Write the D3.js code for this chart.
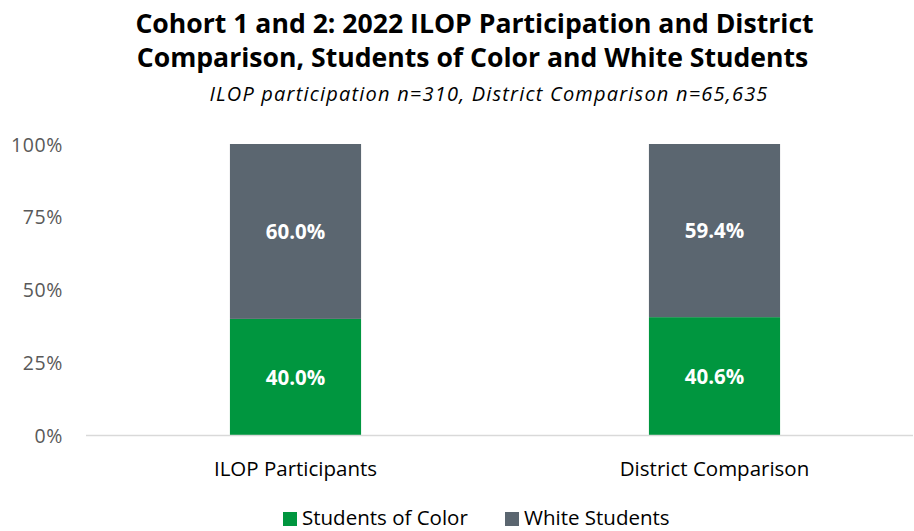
<!DOCTYPE html>
<html>
<head>
<meta charset="utf-8">
<script src="https://cdn.jsdelivr.net/npm/d3@7"></script>
<style>
  html, body { margin: 0; padding: 0; background: #fff; }
  svg { display: block; font-family: "Open Sans", Lato, sans-serif; }
</style>
</head>
<body>
<svg id="chart" width="914" height="531"></svg>
<script>
const categories = ["ILOP Participants", "District Comparison"];
const seriesNames = ["Students of Color", "White Students"];
const studentsOfColor = [40.0, 40.6];
const whiteStudents = [60.0, 59.4];
const yTicks = [0, 25, 50, 75, 100];
const colors = ["#00963F", "#5B6670"];

const svg = d3.select("#chart");
const FONT = '"Open Sans", Lato, sans-serif';

const x = d3.scaleBand().domain(categories).range([86, 924]).paddingInner(0.687).paddingOuter(0.3435);
const y = d3.scaleLinear().domain([0, 100]).range([435.5, 144]);

// Title
svg.append("text").attr("x", 474.5).attr("y", 33).attr("text-anchor", "middle")
  .attr("font-weight", "bold").attr("font-size", 26.6).attr("fill", "#000")
  .text("Cohort 1 and 2: 2022 ILOP Participation and District");
svg.append("text").attr("x", 472.5).attr("y", 67).attr("text-anchor", "middle")
  .attr("font-weight", "bold").attr("font-size", 26.6).attr("fill", "#000")
  .text("Comparison, Students of Color and White Students");
svg.append("text").attr("x", 489).attr("y", 101).attr("text-anchor", "middle")
  .attr("font-style", "italic").attr("font-size", 20).attr("letter-spacing", 1.2).attr("fill", "#000")
  .text("ILOP participation n=310, District Comparison n=65,635");

// Stack
const rows = categories.map((c, i) => ({cat: c, soc: studentsOfColor[i], white: whiteStudents[i]}));
const stack = d3.stack().keys(["soc", "white"])(rows);

const g = svg.append("g");
stack.forEach((layer, li) => {
  g.selectAll(null).data(layer).join("rect")
    .attr("x", d => x(d.data.cat))
    .attr("width", x.bandwidth())
    .attr("y", d => y(d[1]))
    .attr("height", d => y(d[0]) - y(d[1]))
    .attr("fill", colors[li]);
  g.selectAll(null).data(layer).join("text")
    .attr("x", d => x(d.data.cat) + x.bandwidth() / 2)
    .attr("y", d => (y(d[0]) + y(d[1])) / 2 + 7.5)
    .attr("text-anchor", "middle")
    .attr("font-weight", "bold").attr("font-size", 20.5).attr("fill", "#fff")
    .text(d => (d[1] - d[0]).toFixed(1) + "%");
});

// Y axis (no line)
const yAxis = d3.axisLeft(y).tickValues(yTicks).tickSize(0).tickPadding(0).tickFormat(d => d + "%");
const ya = svg.append("g").attr("transform", "translate(63,0)").call(yAxis);
ya.select(".domain").remove();
ya.selectAll("text").attr("font-size", 19.5).attr("fill", "#595959").attr("font-family", FONT)
  .attr("dy", "0.36em").attr("letter-spacing", 0.6);

// X axis baseline
svg.append("line").attr("x1", 86).attr("x2", 913).attr("y1", y(0)).attr("y2", y(0))
  .attr("stroke", "#D9D9D9").attr("stroke-width", 1.5);

const xAxis = d3.axisBottom(x).tickSize(0).tickPadding(0);
const xa = svg.append("g").attr("transform", `translate(0,${y(0)})`).call(xAxis);
xa.select(".domain").remove();
xa.selectAll("text").attr("font-size", 20.5).attr("fill", "#000").attr("font-family", FONT)
  .attr("dy", 0).attr("y", 40);

// Legend
const legendItems = [{name: seriesNames[0], color: colors[0], x: 283}, {name: seriesNames[1], color: colors[1], x: 505}];
const lg = svg.append("g");
legendItems.forEach(it => {
  lg.append("rect").attr("x", it.x).attr("y", 512).attr("width", 14).attr("height", 14).attr("fill", it.color);
  lg.append("text").attr("x", it.x + 19).attr("y", 525).attr("font-size", 20.5).attr("fill", "#000")
    .text(it.name);
});
</script>
</body>
</html>
